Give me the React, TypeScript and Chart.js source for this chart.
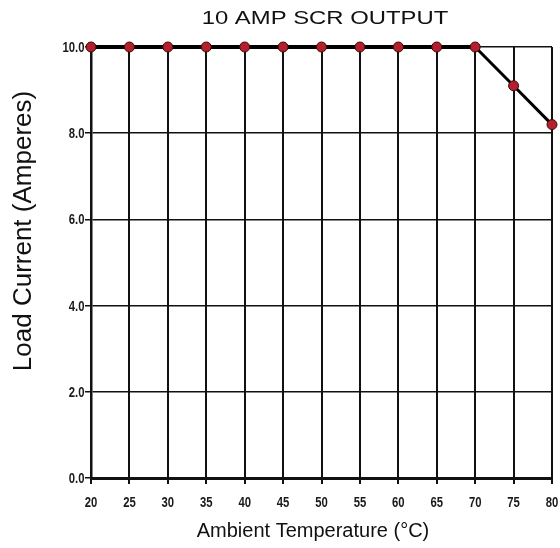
import React, { useEffect, useRef } from "react";
import { Chart, registerables } from "chart.js";

Chart.register(...registerables);

const temperatures = [20, 25, 30, 35, 40, 45, 50, 55, 60, 65, 70, 75, 80];
const loadCurrent = [10, 10, 10, 10, 10, 10, 10, 10, 10, 10, 10, 9.1, 8.2];
const chartTitle = "10 AMP SCR OUTPUT";
const yTitle = "Load Current (Amperes)";
const xTitle = "Ambient Temperature (°C)";

const MAIN_FONT = "'Liberation Sans', Arial, Helvetica, sans-serif";

function drawStretched(ctx: CanvasRenderingContext2D, text: string, x: number, y: number, sx: number) {
  ctx.save();
  ctx.translate(x, y);
  ctx.scale(sx, 1);
  ctx.fillText(text, 0, 0);
  ctx.restore();
}

const titlesPlugin = {
  id: "customTitles",
  afterDraw(chart: any) {
    const ctx = chart.ctx as CanvasRenderingContext2D;
    ctx.save();
    ctx.fillStyle = "#111";
    ctx.textAlign = "center";
    ctx.textBaseline = "middle";
    // main title (horizontally stretched, as in the reference)
    ctx.font = `18.5px ${MAIN_FONT}`;
    drawStretched(ctx, chartTitle, 325, 19, 1.29);
    // x title
    ctx.font = `20px ${MAIN_FONT}`;
    ctx.fillText(xTitle, 313, 531);
    // tick labels (condensed)
    ctx.font = `bold 14.5px ${MAIN_FONT}`;
    ctx.fillStyle = "#1a1a1a";
    const xs = chart.scales.x;
    const ys = chart.scales.y;
    xs.ticks.forEach((t: any) => {
      drawStretched(ctx, String(t.value), xs.getPixelForValue(t.value), 502.5, 0.78);
    });
    ctx.textAlign = "right";
    ys.ticks.forEach((t: any) => {
      drawStretched(ctx, Number(t.value).toFixed(1), 84.5, ys.getPixelForValue(t.value) + 1, 0.78);
    });
    // y title
    ctx.fillStyle = "#111";
    ctx.textAlign = "center";
    ctx.translate(24, 231);
    ctx.rotate(-Math.PI / 2);
    ctx.font = `26px ${MAIN_FONT}`;
    ctx.fillText(yTitle, 0, 0);
    ctx.restore();
  },
};

export default function App() {
  const ref = useRef<HTMLCanvasElement | null>(null);
  useEffect(() => {
    if (!ref.current) return;
    const chart = new Chart(ref.current, {
      type: "line",
      data: {
        datasets: [
          {
            data: temperatures.map((t, i) => ({ x: t, y: loadCurrent[i] })),
            borderColor: "#000",
            borderWidth: 4,
            segment: {
              borderWidth: (c: any) => (c.p0.parsed.x >= 70 ? 3 : 4),
            },
            pointRadius: 5,
            pointBackgroundColor: "#b31f2d",
            pointBorderColor: "#3a0808",
            pointBorderWidth: 1,
            tension: 0,
            clip: false as any,
          },
        ],
      },
      options: {
        responsive: false,
        animation: false,
        layout: { padding: { top: 47, right: 8, left: 0, bottom: 0 } },
        plugins: { legend: { display: false }, tooltip: { enabled: false }, title: { display: false } },
        scales: {
          x: {
            type: "linear",
            min: 20,
            max: 80,
            afterFit: (s: any) => {
              s.height = 70;
              s.paddingLeft = 0;
              s.paddingRight = 0;
            },
            ticks: {
              stepSize: 5,
              color: "rgba(0,0,0,0)",
              padding: 9,
              maxRotation: 0,
              font: { size: 12 },
            },
            grid: { color: "#111", lineWidth: 2, tickLength: 6, tickColor: "#111", tickWidth: 2 },
            border: { color: "#111", width: 3 },
          },
          y: {
            min: 0,
            max: 10,
            afterFit: (s: any) => {
              s.width = 91;
              s.paddingTop = 0;
              s.paddingBottom = 0;
            },
            ticks: {
              stepSize: 2,
              color: "rgba(0,0,0,0)",
              padding: 2,
              font: { size: 12 },
              callback: (v: any) => Number(v).toFixed(1),
            },
            grid: { color: "#111", lineWidth: 1.5, tickLength: 6, tickColor: "#111", tickWidth: 1.5 },
            border: { color: "#111", width: 2.5 },
          },
        },
      },
      plugins: [titlesPlugin],
    });
    return () => chart.destroy();
  }, []);
  return (
    <div style={{ position: "absolute", left: 0, top: 0, width: 560, height: 548, background: "#fff" }}>
      <canvas ref={ref} width={560} height={548} />
    </div>
  );
}
